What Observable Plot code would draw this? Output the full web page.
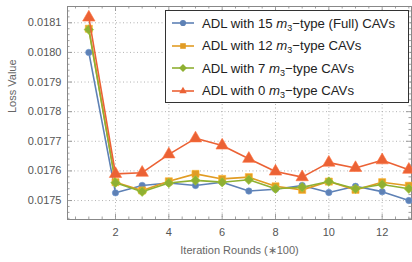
<!DOCTYPE html>
<html><head><meta charset="utf-8">
<script src="https://cdn.jsdelivr.net/npm/d3@7"></script>
<script src="https://cdn.jsdelivr.net/npm/@observablehq/plot@0.6"></script>
<style>
body{margin:0;background:#fff;}
#wrap{position:relative;width:412px;height:262px;font-family:"Liberation Sans",Arial,sans-serif;}
#legend{position:absolute;left:165px;top:10px;width:244px;height:93px;border:1px solid #333;background:#fff;box-sizing:border-box;padding-top:1px;}
.row{height:22.5px;display:flex;align-items:center;font-size:13.2px;color:#222;white-space:nowrap;}
.row svg{margin-left:6px;margin-right:8px;flex:none;}
sub{font-size:9px;vertical-align:-3px;line-height:0;}
</style></head>
<body><div id="wrap"></div>
<script>
const iterations = [1,2,3,4,5,6,7,8,9,10,11,12,13];
const cav15 = [0.01800,0.017526,0.017551,0.017559,0.017551,0.017562,0.017532,0.017538,0.017551,0.017527,0.017548,0.017530,0.017500];
const cav12 = [0.01808,0.017562,0.017534,0.017565,0.017590,0.017573,0.017579,0.017548,0.017536,0.017564,0.017536,0.017562,0.017550];
const cav7  = [0.018077,0.017560,0.017530,0.017559,0.017568,0.017562,0.017570,0.017540,0.017545,0.017564,0.017540,0.017554,0.017540];
const cav0  = [0.018118,0.017590,0.017594,0.017656,0.017710,0.017686,0.017641,0.017598,0.017579,0.017628,0.017610,0.017636,0.017604];
const seriesLabels = ["ADL with 15 <i>m</i><sub>3</sub>\u2212type (Full) CAVs","ADL with 12 <i>m</i><sub>3</sub>\u2212type CAVs","ADL with 7 <i>m</i><sub>3</sub>\u2212type CAVs","ADL with 0 <i>m</i><sub>3</sub>\u2212type CAVs"];
const xTicks = [2,4,6,8,10,12];
const yTicks = [0.0175,0.0176,0.0177,0.0178,0.0179,0.0180,0.0181];

const colors = ["#5E81B5","#E19C24","#8FB032","#EB6235"];
const symbols = ["circle","square","diamond2","triangle"];
const radii = [3.2,4,4.3,4.6];
const allSeries = [cav15,cav12,cav7,cav0];
const data = allSeries.flatMap((vals,s)=>vals.map((v,i)=>({x:iterations[i],y:v,s})));

const xDom=[0.2,13.1], yDom=[0.017436,0.018155];
const W=412,H=262,mL=67,mR=1,mT=6,mB=43;
const xMinor = d3.range(0.5,13.01,0.5).filter(v=>!xTicks.includes(v));
const yMinor = d3.range(0.01744,0.01815,0.00002).filter(v=>!yTicks.some(t=>Math.abs(t-v)<1e-9));
const pxY = (yDom[1]-yDom[0])/(H-mT-mB), pxX=(xDom[1]-xDom[0])/(W-mL-mR);

function tickMarks(vals,len){
  return [
    Plot.ruleX(vals,{x:d=>d,y1:yDom[0],y2:yDom[0]+len*pxY,stroke:"#888",strokeWidth:0.8}),
    Plot.ruleX(vals,{x:d=>d,y1:yDom[1],y2:yDom[1]-len*pxY,stroke:"#888",strokeWidth:0.8})
  ];
}
function tickMarksY(vals,len){
  return [
    Plot.ruleY(vals,{y:d=>d,x1:xDom[0],x2:xDom[0]+len*pxX,stroke:"#888",strokeWidth:0.8}),
    Plot.ruleY(vals,{y:d=>d,x1:xDom[1],x2:xDom[1]-len*pxX,stroke:"#888",strokeWidth:0.8})
  ];
}

const marks = [
  Plot.gridX(xTicks,{stroke:"#aaa",strokeOpacity:1,strokeDasharray:"1,2.5",strokeWidth:0.9}),
  Plot.gridY(yTicks,{stroke:"#aaa",strokeOpacity:1,strokeDasharray:"1,2.5",strokeWidth:0.9}),
  ...tickMarks(xTicks,5), ...tickMarks(xMinor,2.5),
  ...tickMarksY(yTicks,5), ...tickMarksY(yMinor,2.5),
  Plot.axisX(xTicks,{tickSize:0,tickPadding:9,fill:"#555",fontSize:11}),
  Plot.axisY(yTicks,{tickSize:0,tickPadding:6,tickFormat:d3.format(".4f"),fill:"#555",fontSize:11}),
  Plot.frame({stroke:"#888",strokeWidth:1})
];
allSeries.forEach((vals,s)=>{
  const d = data.filter(o=>o.s===s);
  marks.push(Plot.line(d,{x:"x",y:"y",stroke:colors[s],strokeWidth:1.6}));
  marks.push(Plot.dot(d,{x:"x",y:"y",fill:colors[s],stroke:d3.color(colors[s]).brighter(0.4).formatHex(),strokeWidth:0.6,symbol:()=>symbols[s],r:radii[s]}));
});
marks.push(Plot.text(["Iteration Rounds (\u2217100)"],{frameAnchor:"bottom",dy:34,text:d=>d,fill:"#666",fontSize:11}));
marks.push(Plot.text(["Loss Value"],{frameAnchor:"left",dx:-55,rotate:-90,text:d=>d,fill:"#666",fontSize:11}));

const chart = Plot.plot({
  width:W,height:H,marginLeft:mL,marginRight:mR,marginTop:mT,marginBottom:mB,
  style:{fontFamily:"Liberation Sans, Arial, sans-serif",fontSize:"11px",background:"white",overflow:"visible"},
  x:{domain:xDom,label:null},
  y:{domain:yDom,label:null},
  marks
});
const wrap=document.getElementById("wrap");
wrap.appendChild(chart);
const leg=document.createElement("div");leg.id="legend";
seriesLabels.forEach((lab,s)=>{
  const row=document.createElement("div");row.className="row";
  const sym=d3.symbol(s===2?d3.symbolDiamond2:(s===3?d3.symbolTriangle2:(s===1?d3.symbolSquare2:d3.symbolCircle)),s===0?30:40)();
  row.innerHTML=`<svg width="22" height="10"><line x1="0" x2="22" y1="5" y2="5" stroke="${colors[s]}" stroke-width="1.6"/><path transform="translate(11,5)" d="${sym}" fill="${colors[s]}"/></svg><span>${lab}</span>`;
  leg.appendChild(row);
});
wrap.appendChild(leg);
</script></body></html>
